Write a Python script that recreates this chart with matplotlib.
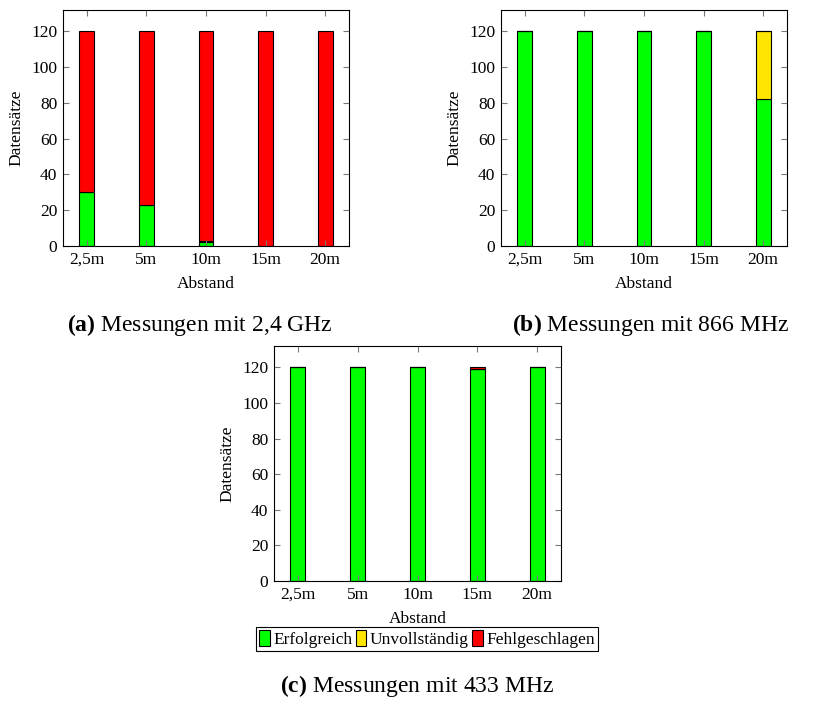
import numpy as np
import matplotlib.pyplot as plt
from matplotlib.patches import Patch

plt.rcParams['font.family'] = ['Liberation Serif', 'DejaVu Serif']
plt.rcParams['mathtext.fontset'] = 'custom'
plt.rcParams['mathtext.rm'] = 'Liberation Serif'
plt.rcParams['mathtext.bf'] = 'Liberation Serif:bold'

# x categories (distance)
abstand = ['2,5m', '5m', '10m', '15m', '20m']
serien = ['Erfolgreich', 'Unvollständig', 'Fehlgeschlagen']
farben = ['#00ff00', '#ffe600', '#ff0000']

ghz24_ok = [30, 23, 2, 0, 0]
ghz24_unv = [0, 0, 1, 0, 0]
ghz24_fail = [90, 97, 117, 120, 120]

mhz866_ok = [120, 120, 120, 120, 82]
mhz866_unv = [0, 0, 0, 0, 38]
mhz866_fail = [0, 0, 0, 0, 0]

mhz433_ok = [120, 120, 120, 119, 120]
mhz433_unv = [0, 0, 0, 0, 0]
mhz433_fail = [0, 0, 0, 1, 0]

W, H = 830, 702
fig = plt.figure(figsize=(W / 100, H / 100), dpi=100)


def px_axes(left, top, right, bottom):
    return fig.add_axes([left / W, 1 - bottom / H, (right - left) / W, (bottom - top) / H])


def draw(ax, ok, unv, fail):
    x = np.arange(len(abstand))
    bottom = np.zeros(len(abstand))
    for vals, c in zip([ok, unv, fail], farben):
        vals = np.array(vals, dtype=float)
        ax.bar(x, vals, 0.25, bottom=bottom, color=c, edgecolor='black', linewidth=0.8)
        bottom += vals
    ax.set_xlim(-0.4, 4.4)
    ax.set_ylim(0, 132)
    ax.set_xticks(x)
    ax.set_xticklabels(abstand)
    ax.set_yticks([0, 20, 40, 60, 80, 100, 120])
    ax.tick_params(direction='in', top=True, right=True, length=4, color='#777777',
                   labelsize=12.5, pad=4)
    ax.set_xlabel('Abstand', fontsize=12.5, labelpad=6)
    ax.set_ylabel('Datensätze', fontsize=12.5, labelpad=5)
    for s in ax.spines.values():
        s.set_linewidth(0.8)


ax1 = px_axes(63, 10, 349, 246)
draw(ax1, ghz24_ok, ghz24_unv, ghz24_fail)
ax2 = px_axes(501, 10, 787, 246)
draw(ax2, mhz866_ok, mhz866_unv, mhz866_fail)
ax3 = px_axes(274, 346, 561, 581)
draw(ax3, mhz433_ok, mhz433_unv, mhz433_fail)

fig.text(200 / W, 1 - 325 / H, r'$\mathbf{(a)}$ Messungen mit 2,4 GHz', ha='center', va='center', fontsize=17)
fig.text(651 / W, 1 - 325 / H, r'$\mathbf{(b)}$ Messungen mit 866 MHz', ha='center', va='center', fontsize=17)
fig.text(417 / W, 1 - 686 / H, r'$\mathbf{(c)}$ Messungen mit 433 MHz', ha='center', va='center', fontsize=17)

handles = [Patch(facecolor=c, edgecolor='black', linewidth=0.8) for c in farben]
leg = fig.legend(handles, serien, loc='center', bbox_to_anchor=(427 / W, 1 - 639 / H), ncol=3,
                 fontsize=12.5, handlelength=0.6, handleheight=1.0, handletextpad=0.2,
                 columnspacing=0.2, borderpad=0.2, fancybox=False, framealpha=1,
                 edgecolor='black')
leg.get_frame().set_linewidth(0.8)

fig.savefig('out.png', dpi=100)
